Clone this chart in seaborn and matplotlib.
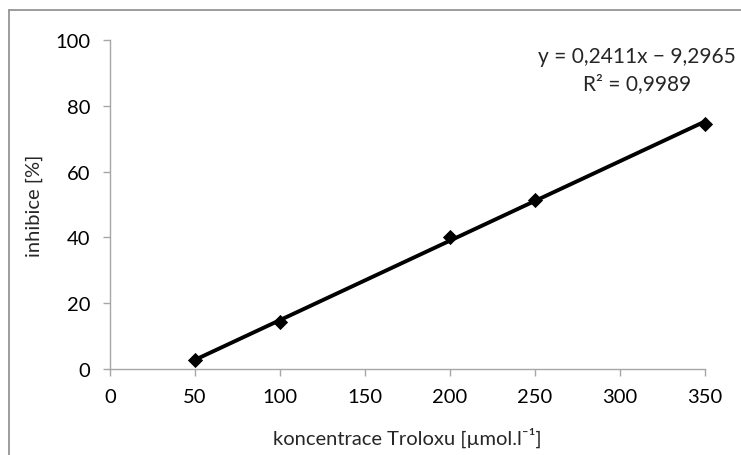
import matplotlib
matplotlib.use("Agg")
import matplotlib.pyplot as plt
import seaborn as sns
import pandas as pd
from matplotlib.lines import Line2D

koncentrace = [50, 100, 200, 250, 350]
inhibice = [2.6, 14.3, 40.2, 51.3, 74.6]
xticks = [0, 50, 100, 150, 200, 250, 300, 350]
yticks = [0, 20, 40, 60, 80, 100]
rovnice = "y = 0,2411x \u2212 9,2965"
r2 = "R\u00b2 = 0,9989"

sns.set_theme(style="white")
plt.rcParams['font.family'] = ['Lato', 'DejaVu Sans']

df = pd.DataFrame({"x": koncentrace, "y": inhibice})

fig = plt.figure(figsize=(7.41, 4.56), dpi=100)
ax = fig.add_axes([110/741, 1-370/456, (705-110)/741, (370-41)/456])

sns.regplot(data=df, x="x", y="y", ax=ax, ci=None, color="black", marker="D",
            scatter_kws=dict(s=60, zorder=3, linewidths=0, alpha=1, clip_on=False),
            line_kws=dict(lw=2.8, color="black", solid_capstyle="butt"))

fs = 14.5
ax.set_xlim(0, 350)
ax.set_ylim(0, 100)
ax.set_xticks(xticks)
ax.set_yticks(yticks)
ax.set_xticklabels([str(v) for v in xticks])
ax.set_yticklabels([str(v) for v in yticks])
for s in ["top", "right"]:
    ax.spines[s].set_visible(False)
for s in ["left", "bottom"]:
    ax.spines[s].set_color("#a6a6a6")
    ax.spines[s].set_linewidth(1.0)
ax.tick_params(axis="both", direction="out", length=5, width=1, color="#a6a6a6",
               labelsize=fs, labelcolor="black", bottom=True, left=True, pad=9)
ax.set_xlabel("koncentrace Troloxu [\u00b5mol.l\u207b\u00b9]", fontsize=fs, labelpad=15)
ax.set_ylabel("inhibice [%]", fontsize=fs, labelpad=9)

ax.text(637/741, 1-57/456, rovnice, transform=fig.transFigure, ha="center", va="center", fontsize=15)
ax.text(637/741, 1-84/456, r2, transform=fig.transFigure, ha="center", va="center", fontsize=15)

# outer chart border (visible on top and left)
fig.add_artist(Line2D([9/741, 1], [1-11/456, 1-11/456], transform=fig.transFigure, color="#8c8c8c", lw=1.2))
fig.add_artist(Line2D([9/741, 9/741], [0, 1-11/456], transform=fig.transFigure, color="#8c8c8c", lw=1.2))

fig.savefig("out.png", dpi=100)
